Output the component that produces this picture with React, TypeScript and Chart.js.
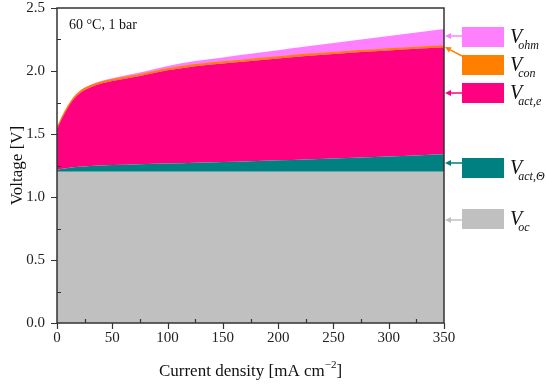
import React, { useEffect, useRef } from "react";
import { Chart, registerables } from "chart.js";

Chart.register(...registerables);

const currentDensity = [0, 2, 5, 10, 15, 20, 25, 30, 40, 50, 75, 100, 125, 150, 175, 200, 225, 250, 275, 300, 325, 350];
const vOc = [1.2, 1.2, 1.2, 1.2, 1.2, 1.2, 1.2, 1.2, 1.2, 1.2, 1.2, 1.2, 1.2, 1.2, 1.2, 1.2, 1.2, 1.2, 1.2, 1.2, 1.2, 1.2];
const vActTheta = [0.012, 0.018, 0.024, 0.031, 0.036, 0.04, 0.043, 0.046, 0.05, 0.053, 0.06, 0.066, 0.072, 0.078, 0.084, 0.091, 0.098, 0.105, 0.113, 0.121, 0.13, 0.139];
const vActE = [0.333, 0.357, 0.406, 0.479, 0.539, 0.58, 0.607, 0.624, 0.65, 0.667, 0.7, 0.739, 0.766, 0.782, 0.796, 0.809, 0.822, 0.83, 0.837, 0.842, 0.846, 0.849];
const vCon = [0.01, 0.01, 0.011, 0.011, 0.012, 0.012, 0.012, 0.012, 0.012, 0.012, 0.012, 0.012, 0.012, 0.012, 0.012, 0.012, 0.012, 0.012, 0.012, 0.012, 0.012, 0.012];
const vOhm = [0, 0, 0.001, 0.002, 0.003, 0.004, 0.005, 0.006, 0.008, 0.01, 0.016, 0.022, 0.029, 0.036, 0.044, 0.053, 0.063, 0.075, 0.088, 0.102, 0.117, 0.133];

const xTicks = [0, 50, 100, 150, 200, 250, 300, 350];
const yTicks = [0, 0.5, 1.0, 1.5, 2.0, 2.5];

const seriesNames = ["oc", "act,Θ", "act,e", "con", "ohm"];
const seriesColors = ["#C0C0C0", "#008080", "#FF0080", "#FF8000", "#FF80FF"];
const annotationText = "60 °C, 1 bar";

const SERIF = "'Liberation Serif', 'Times New Roman', serif";

function mk(values: number[]) {
  return currentDensity.map((x, i) => ({ x, y: values[i] }));
}

const overlayPlugin = {
  id: "overlay",
  afterDraw(chart: any) {
    const ctx = chart.ctx as CanvasRenderingContext2D;
    const { left, right, top, bottom } = chart.chartArea;
    const xs = chart.scales.x;
    const ys = chart.scales.y;
    ctx.save();
    ctx.strokeStyle = "#333";
    ctx.lineWidth = 1.5;
    ctx.strokeRect(left, top, right - left, bottom - top);
    ctx.lineWidth = 1.2;
    ctx.beginPath();
    for (let v = 0; v <= 350; v += 25) {
      const px = Math.round(xs.getPixelForValue(v)) + 0.5;
      if (v % 50 === 0) {
        ctx.moveTo(px, bottom);
        ctx.lineTo(px, bottom + 6);
      } else {
        ctx.moveTo(px, bottom);
        ctx.lineTo(px, bottom - 4);
      }
    }
    for (let k = 0; k <= 10; k++) {
      const v = k * 0.25;
      const py = Math.round(ys.getPixelForValue(v)) + 0.5;
      if (k % 2 === 0) {
        ctx.moveTo(left, py);
        ctx.lineTo(left - 6, py);
      } else {
        ctx.moveTo(left, py);
        ctx.lineTo(left + 4, py);
      }
    }
    ctx.stroke();

    ctx.fillStyle = "#111";
    ctx.font = `14px ${SERIF}`;
    ctx.textBaseline = "alphabetic";
    ctx.textAlign = "left";
    ctx.fillText(annotationText, left + 12, top + 21);

    const xMain = "Current density [mA cm";
    const xSup = "−2";
    const xEnd = "]";
    ctx.font = `17px ${SERIF}`;
    const w1 = ctx.measureText(xMain).width;
    const w3 = ctx.measureText(xEnd).width;
    ctx.font = `11px ${SERIF}`;
    const w2 = ctx.measureText(xSup).width;
    const total = w1 + w2 + w3;
    const cx = (left + right) / 2;
    const sx = cx - total / 2;
    const by = 376;
    ctx.font = `17px ${SERIF}`;
    ctx.fillText(xMain, sx, by);
    ctx.font = `11px ${SERIF}`;
    ctx.fillText(xSup, sx + w1, by - 8);
    ctx.font = `17px ${SERIF}`;
    ctx.fillText(xEnd, sx + w1 + w2, by);

    ctx.save();
    ctx.translate(22, (top + bottom) / 2);
    ctx.rotate(-Math.PI / 2);
    ctx.textAlign = "center";
    ctx.font = `17px ${SERIF}`;
    ctx.fillText("Voltage [V]", 0, 0);
    ctx.restore();

    const boxX = 462;
    const boxW = 42;
    const boxH = 20;
    const items = [
      { idx: 4, boxTop: 27, from: [462, 36], to: [445, 36] },
      { idx: 3, boxTop: 55, from: [462, 56], to: [445, 47] },
      { idx: 2, boxTop: 83, from: [462, 93], to: [445, 93] },
      { idx: 1, boxTop: 158, from: [462, 163], to: [445, 163] },
      { idx: 0, boxTop: 209, from: [462, 220], to: [445, 220] },
    ];
    for (const it of items) {
      const col = seriesColors[it.idx];
      ctx.fillStyle = col;
      ctx.fillRect(boxX, it.boxTop, boxW, boxH);
      ctx.strokeStyle = col;
      ctx.lineWidth = 1.5;
      const [fx, fy] = it.from;
      const [tx, ty] = it.to;
      const ang = Math.atan2(ty - fy, tx - fx);
      const hl = 6;
      const hw = 3;
      const bx = tx - hl * Math.cos(ang);
      const byy = ty - hl * Math.sin(ang);
      ctx.beginPath();
      ctx.moveTo(fx, fy);
      ctx.lineTo(bx, byy);
      ctx.stroke();
      ctx.beginPath();
      ctx.moveTo(tx, ty);
      ctx.lineTo(bx + hw * Math.sin(ang), byy - hw * Math.cos(ang));
      ctx.lineTo(bx - hw * Math.sin(ang), byy + hw * Math.cos(ang));
      ctx.closePath();
      ctx.fill();
      ctx.fillStyle = "#111";
      ctx.textAlign = "left";
      ctx.font = `italic 20px ${SERIF}`;
      const vx = 510;
      const vb = it.boxTop + 16;
      ctx.fillText("V", vx, vb);
      const vw = ctx.measureText("V").width;
      ctx.font = `italic 12px ${SERIF}`;
      ctx.fillText(seriesNames[it.idx], vx + vw - 4, vb + 6);
    }
    ctx.restore();
  },
};

export default function App() {
  const ref = useRef<HTMLCanvasElement | null>(null);
  useEffect(() => {
    if (!ref.current) return;
    const series = [vOc, vActTheta, vActE, vCon, vOhm];
    const chart = new Chart(ref.current, {
      type: "line",
      data: {
        datasets: series.map((vals, i) => ({
          label: seriesNames[i],
          data: mk(vals),
          backgroundColor: seriesColors[i],
          borderColor: seriesColors[i],
          borderWidth: i === 3 ? 1.2 : 0,
          fill: i === 0 ? "origin" : "-1",
          pointRadius: 0,
          cubicInterpolationMode: "monotone",
        })),
      },
      options: {
        animation: false,
        responsive: false,
        devicePixelRatio: 1,
        layout: { padding: { left: 0, right: 102, top: 8, bottom: 0 } },
        plugins: { legend: { display: false }, tooltip: { enabled: false } },
        scales: {
          x: {
            type: "linear",
            min: 0,
            max: 350,
            afterFit: (s: any) => {
              s.height = 64;
            },
            afterBuildTicks: (s: any) => {
              s.ticks = xTicks.map((v) => ({ value: v }));
            },
            grid: { display: false, drawTicks: true, tickLength: 5 },
            border: { display: false },
            ticks: {
              padding: 3,
              color: "#222",
              font: { family: SERIF, size: 15, lineHeight: 1 },
              maxRotation: 0,
              callback: (v: any) => String(v),
            },
          },
          y: {
            type: "linear",
            stacked: true,
            min: 0,
            max: 2.5,
            afterFit: (s: any) => {
              s.width = 57;
            },
            afterBuildTicks: (s: any) => {
              s.ticks = yTicks.map((v) => ({ value: v }));
            },
            grid: { display: false, drawTicks: true, tickLength: 12 },
            border: { display: false },
            ticks: {
              padding: 0,
              color: "#222",
              font: { family: SERIF, size: 15, lineHeight: 1 },
              callback: (v: any) => Number(v).toFixed(1),
            },
          },
        },
      },
      plugins: [overlayPlugin],
    });
    return () => chart.destroy();
  }, []);
  return (
    <div style={{ position: "fixed", left: 0, top: 0, width: 546, height: 387, background: "#fff" }}>
      <canvas ref={ref} width={546} height={387} style={{ width: 546, height: 387, display: "block" }} />
    </div>
  );
}
